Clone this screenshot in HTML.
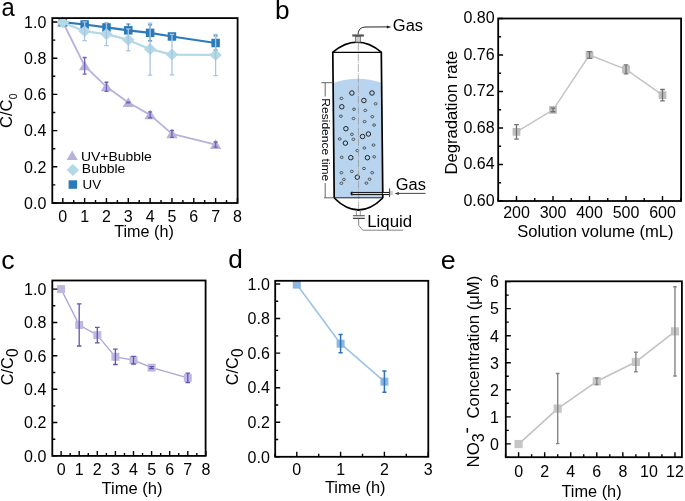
<!DOCTYPE html>
<html><head><meta charset="utf-8"><style>
html,body{margin:0;padding:0;background:#fff;}
svg{display:block;font-family:"Liberation Sans", sans-serif;will-change:transform;}
</style></head><body>
<svg width="685" height="501" viewBox="0 0 685 501">
<rect width="685" height="501" fill="#fff"/>
<text transform="translate(1.39,15.80) scale(0.9500,1)" font-size="25" text-anchor="start" >a</text>
<polyline points="62.80,22.00 84.63,65.80 106.46,86.80 128.29,102.54 150.12,114.85 171.95,133.86 215.61,144.54" fill="none" stroke="#b9b1dc" stroke-width="1.8" stroke-linejoin="round"/>
<path d="M62.80 16.61L68.50 26.41L57.10 26.41Z" fill="#b9b1dc"/>
<path d="M84.63 60.41L90.33 70.21L78.93 70.21Z" fill="#b9b1dc"/>
<path d="M106.46 81.41L112.16 91.21L100.76 91.21Z" fill="#b9b1dc"/>
<path d="M128.29 97.15L133.99 106.95L122.59 106.95Z" fill="#b9b1dc"/>
<path d="M150.12 109.46L155.82 119.26L144.42 119.26Z" fill="#b9b1dc"/>
<path d="M171.95 128.47L177.65 138.27L166.25 138.27Z" fill="#b9b1dc"/>
<path d="M215.61 139.15L221.31 148.95L209.91 148.95Z" fill="#b9b1dc"/>
<path d="M84.63 57.48V74.13M82.63 57.48H86.63M82.63 74.13H86.63" stroke="#6e63b8" stroke-width="1.3" fill="none"/>
<path d="M106.46 82.27V91.32M104.46 82.27H108.46M104.46 91.32H108.46" stroke="#6e63b8" stroke-width="1.3" fill="none"/>
<path d="M128.29 102.18V102.91M126.29 102.18H130.29M126.29 102.91H130.29" stroke="#6e63b8" stroke-width="1.3" fill="none"/>
<path d="M150.12 111.96V117.75M148.12 111.96H152.12M148.12 117.75H152.12" stroke="#6e63b8" stroke-width="1.3" fill="none"/>
<path d="M171.95 130.42V137.30M169.95 130.42H173.95M169.95 137.30H173.95" stroke="#6e63b8" stroke-width="1.3" fill="none"/>
<path d="M215.61 142.00V147.07M213.61 142.00H217.61M213.61 147.07H217.61" stroke="#6e63b8" stroke-width="1.3" fill="none"/>
<polyline points="62.80,22.18 84.63,24.53 106.46,27.43 128.29,30.33 150.12,32.86 171.95,36.48 215.61,43.00" fill="none" stroke="#2b7bbb" stroke-width="2.2" stroke-linejoin="round"/>
<rect x="58.55" y="17.93" width="8.5" height="8.5" fill="#2b7bbb"/>
<rect x="80.38" y="20.28" width="8.5" height="8.5" fill="#2b7bbb"/>
<rect x="102.21" y="23.18" width="8.5" height="8.5" fill="#2b7bbb"/>
<rect x="124.04" y="26.08" width="8.5" height="8.5" fill="#2b7bbb"/>
<rect x="145.87" y="28.61" width="8.5" height="8.5" fill="#2b7bbb"/>
<rect x="167.70" y="32.23" width="8.5" height="8.5" fill="#2b7bbb"/>
<rect x="211.36" y="38.75" width="8.5" height="8.5" fill="#2b7bbb"/>
<path d="M84.63 20.91V28.15M82.63 20.91H86.63M82.63 28.15H86.63" stroke="#2b7bbb" stroke-width="1.2" fill="none"/>
<path d="M106.46 23.81V31.05M104.46 23.81H108.46M104.46 31.05H108.46" stroke="#2b7bbb" stroke-width="1.2" fill="none"/>
<path d="M128.29 23.99V36.66M126.29 23.99H130.29M126.29 36.66H130.29" stroke="#2b7bbb" stroke-width="1.2" fill="none"/>
<path d="M150.12 24.90V40.82M148.12 24.90H152.12M148.12 40.82H152.12" stroke="#2b7bbb" stroke-width="1.2" fill="none"/>
<path d="M171.95 34.67V38.29M169.95 34.67H173.95M169.95 38.29H173.95" stroke="#2b7bbb" stroke-width="1.2" fill="none"/>
<path d="M215.61 35.94V50.06M213.61 35.94H217.61M213.61 50.06H217.61" stroke="#2b7bbb" stroke-width="1.2" fill="none"/>
<polyline points="62.80,22.54 84.63,31.23 106.46,34.13 128.29,39.92 150.12,49.15 171.95,54.58 215.61,54.94" fill="none" stroke="#b3d8e6" stroke-width="2.2" stroke-linejoin="round"/>
<path d="M62.80 16.74L69.10 22.54L62.80 28.34L56.50 22.54Z" fill="#b3d8e6"/>
<path d="M84.63 25.43L90.93 31.23L84.63 37.03L78.33 31.23Z" fill="#b3d8e6"/>
<path d="M106.46 28.33L112.76 34.13L106.46 39.93L100.16 34.13Z" fill="#b3d8e6"/>
<path d="M128.29 34.12L134.59 39.92L128.29 45.72L121.99 39.92Z" fill="#b3d8e6"/>
<path d="M150.12 43.35L156.42 49.15L150.12 54.95L143.82 49.15Z" fill="#b3d8e6"/>
<path d="M171.95 48.78L178.25 54.58L171.95 60.38L165.65 54.58Z" fill="#b3d8e6"/>
<path d="M215.61 49.14L221.91 54.94L215.61 60.74L209.31 54.94Z" fill="#b3d8e6"/>
<path d="M84.63 21.82V40.64M82.38 21.82H86.88M82.38 40.64H86.88" stroke="#aac4e6" stroke-width="1.3" fill="none"/>
<path d="M106.46 22.72V45.53M104.21 22.72H108.71M104.21 45.53H108.71" stroke="#aac4e6" stroke-width="1.3" fill="none"/>
<path d="M128.29 28.88V50.96M126.04 28.88H130.54M126.04 50.96H130.54" stroke="#aac4e6" stroke-width="1.3" fill="none"/>
<path d="M150.12 23.09V75.21M147.87 23.09H152.37M147.87 75.21H152.37" stroke="#aac4e6" stroke-width="1.3" fill="none"/>
<path d="M171.95 34.31V74.85M169.70 34.31H174.20M169.70 74.85H174.20" stroke="#aac4e6" stroke-width="1.3" fill="none"/>
<path d="M215.61 34.31V75.58M213.36 34.31H217.86M213.36 75.58H217.86" stroke="#aac4e6" stroke-width="1.3" fill="none"/>
<rect x="52.3" y="18.1" width="185.3" height="184.9" fill="none" stroke="#000" stroke-width="1.8"/>
<path d="M62.80 203V198.00M84.63 203V198.00M106.46 203V198.00M128.29 203V198.00M150.12 203V198.00M171.95 203V198.00M193.78 203V198.00M215.61 203V198.00M237.44 203V198.00" stroke="#000" stroke-width="1.4" fill="none"/>
<path d="M73.72 203V200.00M95.54 203V200.00M117.38 203V200.00M139.20 203V200.00M161.03 203V200.00M182.87 203V200.00M204.69 203V200.00M226.52 203V200.00" stroke="#000" stroke-width="1.4" fill="none"/>
<path d="M52.3 203.00H57.30M52.3 166.80H57.30M52.3 130.60H57.30M52.3 94.40H57.30M52.3 58.20H57.30M52.3 22.00H57.30" stroke="#000" stroke-width="1.4" fill="none"/>
<path d="M52.3 184.90H55.30M52.3 148.70H55.30M52.3 112.50H55.30M52.3 76.30H55.30M52.3 40.10H55.30" stroke="#000" stroke-width="1.4" fill="none"/>
<text x="62.80" y="222.20" font-size="16" text-anchor="middle" >0</text>
<text x="84.63" y="222.20" font-size="16" text-anchor="middle" >1</text>
<text x="106.46" y="222.20" font-size="16" text-anchor="middle" >2</text>
<text x="128.29" y="222.20" font-size="16" text-anchor="middle" >3</text>
<text x="150.12" y="222.20" font-size="16" text-anchor="middle" >4</text>
<text x="171.95" y="222.20" font-size="16" text-anchor="middle" >5</text>
<text x="193.78" y="222.20" font-size="16" text-anchor="middle" >6</text>
<text x="215.61" y="222.20" font-size="16" text-anchor="middle" >7</text>
<text x="237.44" y="222.20" font-size="16" text-anchor="middle" >8</text>
<text x="46.30" y="208.80" font-size="16" text-anchor="end" >0.0</text>
<text x="46.30" y="172.60" font-size="16" text-anchor="end" >0.2</text>
<text x="46.30" y="136.40" font-size="16" text-anchor="end" >0.4</text>
<text x="46.30" y="100.20" font-size="16" text-anchor="end" >0.6</text>
<text x="46.30" y="64.00" font-size="16" text-anchor="end" >0.8</text>
<text x="46.30" y="27.80" font-size="16" text-anchor="end" >1.0</text>
<text transform="translate(114.24,237.20) scale(1.0103,1)" font-size="16" text-anchor="start" >Time (h)</text>
<text transform="translate(12.30,128.04) rotate(-90) scale(1.0332,1)" font-size="16" text-anchor="start" >C/C</text>
<text transform="translate(16.60,99.30) rotate(-90) scale(0.8913,1)" font-size="11.5" text-anchor="start" >0</text>
<path d="M72.2 150.5L77.8 160L66.6 160Z" fill="#b9b1dc"/>
<path d="M72.85 164.10L79.00 170.10L72.85 176.10L66.70 170.10Z" fill="#b3d8e6"/>
<rect x="68.60" y="180.30" width="8.5" height="8.5" fill="#2b7bbb"/>
<text transform="translate(80.92,161.00) scale(1.0736,1)" font-size="13" text-anchor="start" >UV+Bubble</text>
<text transform="translate(81.85,173.40) scale(1.0738,1)" font-size="13" text-anchor="start" >Bubble</text>
<text transform="translate(82.47,188.70) scale(1.0295,1)" font-size="13" text-anchor="start" >UV</text>
<text transform="translate(274.91,18.80) scale(1.0496,1)" font-size="25" text-anchor="start" >b</text>
<polyline points="516.50,131.83 553.00,109.93 589.50,55.00 626.00,69.33 662.50,95.15" fill="none" stroke="#c4c4c4" stroke-width="1.4" stroke-linejoin="round"/>
<rect x="512.60" y="127.93" width="7.8" height="7.8" fill="#bdbdbd"/>
<path d="M516.50 124.53V139.13M514.20 124.53H518.80M514.20 139.13H518.80" stroke="#707070" stroke-width="1.3" fill="none"/>
<rect x="549.10" y="106.03" width="7.8" height="7.8" fill="#bdbdbd"/>
<path d="M553.00 108.11V111.76M550.70 108.11H555.30M550.70 111.76H555.30" stroke="#707070" stroke-width="1.3" fill="none"/>
<rect x="585.60" y="51.10" width="7.8" height="7.8" fill="#bdbdbd"/>
<path d="M589.50 51.62V58.38M587.20 51.62H591.80M587.20 58.38H591.80" stroke="#707070" stroke-width="1.3" fill="none"/>
<rect x="622.10" y="65.43" width="7.8" height="7.8" fill="#bdbdbd"/>
<path d="M626.00 64.85V73.80M623.70 64.85H628.30M623.70 73.80H628.30" stroke="#707070" stroke-width="1.3" fill="none"/>
<rect x="658.60" y="91.25" width="7.8" height="7.8" fill="#bdbdbd"/>
<path d="M662.50 89.49V100.81M660.20 89.49H664.80M660.20 100.81H664.80" stroke="#707070" stroke-width="1.3" fill="none"/>
<rect x="498.2" y="18.5" width="182.90000000000003" height="182.5" fill="none" stroke="#000" stroke-width="1.8"/>
<path d="M516.50 201V196.00M553.00 201V196.00M589.50 201V196.00M626.00 201V196.00M662.50 201V196.00" stroke="#000" stroke-width="1.4" fill="none"/>
<path d="M498.25 201V198.00M534.75 201V198.00M571.25 201V198.00M607.75 201V198.00M644.25 201V198.00M680.75 201V198.00" stroke="#000" stroke-width="1.4" fill="none"/>
<path d="M498.1 201.00H503.10M498.1 164.50H503.10M498.1 128.00H503.10M498.1 91.50H503.10M498.1 55.00H503.10M498.1 18.50H503.10" stroke="#000" stroke-width="1.4" fill="none"/>
<path d="M498.1 182.75H501.10M498.1 146.25H501.10M498.1 109.75H501.10M498.1 73.25H501.10M498.1 36.75H501.10" stroke="#000" stroke-width="1.4" fill="none"/>
<text x="516.50" y="217.70" font-size="16" text-anchor="middle" >200</text>
<text x="553.00" y="217.70" font-size="16" text-anchor="middle" >300</text>
<text x="589.50" y="217.70" font-size="16" text-anchor="middle" >400</text>
<text x="626.00" y="217.70" font-size="16" text-anchor="middle" >500</text>
<text x="662.50" y="217.70" font-size="16" text-anchor="middle" >600</text>
<text x="494.60" y="205.80" font-size="16" text-anchor="end" >0.60</text>
<text x="494.60" y="169.30" font-size="16" text-anchor="end" >0.64</text>
<text x="494.60" y="132.80" font-size="16" text-anchor="end" >0.68</text>
<text x="494.60" y="96.30" font-size="16" text-anchor="end" >0.72</text>
<text x="494.60" y="59.80" font-size="16" text-anchor="end" >0.76</text>
<text x="494.60" y="23.30" font-size="16" text-anchor="end" >0.80</text>
<text transform="translate(517.15,237.30) scale(1.0351,1)" font-size="16" text-anchor="start" >Solution volume (mL)</text>
<text transform="translate(457.40,174.46) rotate(-90) scale(1.0072,1)" font-size="16.5" text-anchor="start" >Degradation rate</text>
<text transform="translate(1.37,268.60) scale(1.0669,1)" font-size="25" text-anchor="start" >c</text>
<polyline points="61.10,289.10 79.20,324.96 97.30,335.14 115.40,356.82 133.50,360.16 151.60,367.66 187.80,377.84" fill="none" stroke="#aaa3d9" stroke-width="1.3" stroke-linejoin="round"/>
<rect x="57.10" y="285.10" width="8" height="8" fill="#bfb9e1"/>
<rect x="75.20" y="320.96" width="8" height="8" fill="#bfb9e1"/>
<path d="M79.20 303.95V345.98M76.90 303.95H81.50M76.90 345.98H81.50" stroke="#5f56b3" stroke-width="1.3" fill="none"/>
<rect x="93.30" y="331.14" width="8" height="8" fill="#bfb9e1"/>
<path d="M97.30 327.46V342.81M95.00 327.46H99.60M95.00 342.81H99.60" stroke="#5f56b3" stroke-width="1.3" fill="none"/>
<rect x="111.40" y="352.82" width="8" height="8" fill="#bfb9e1"/>
<path d="M115.40 349.15V364.49M113.10 349.15H117.70M113.10 364.49H117.70" stroke="#5f56b3" stroke-width="1.3" fill="none"/>
<rect x="129.50" y="356.16" width="8" height="8" fill="#bfb9e1"/>
<path d="M133.50 356.32V363.99M131.20 356.32H135.80M131.20 363.99H135.80" stroke="#5f56b3" stroke-width="1.3" fill="none"/>
<rect x="147.60" y="363.66" width="8" height="8" fill="#bfb9e1"/>
<path d="M151.60 366.66V368.66M149.30 366.66H153.90M149.30 368.66H153.90" stroke="#5f56b3" stroke-width="1.3" fill="none"/>
<rect x="183.80" y="373.84" width="8" height="8" fill="#bfb9e1"/>
<path d="M187.80 373.17V382.51M185.50 373.17H190.10M185.50 382.51H190.10" stroke="#5f56b3" stroke-width="1.3" fill="none"/>
<rect x="52.3" y="280.5" width="153.3" height="175.39999999999998" fill="none" stroke="#000" stroke-width="1.8"/>
<path d="M61.10 455.9V450.90M79.20 455.9V450.90M97.30 455.9V450.90M115.40 455.9V450.90M133.50 455.9V450.90M151.60 455.9V450.90M169.70 455.9V450.90M187.80 455.9V450.90M205.90 455.9V450.90" stroke="#000" stroke-width="1.4" fill="none"/>
<path d="M70.15 455.9V452.90M88.25 455.9V452.90M106.35 455.9V452.90M124.45 455.9V452.90M142.55 455.9V452.90M160.65 455.9V452.90M178.75 455.9V452.90M196.85 455.9V452.90" stroke="#000" stroke-width="1.4" fill="none"/>
<path d="M52.3 455.90H57.30M52.3 422.54H57.30M52.3 389.18H57.30M52.3 355.82H57.30M52.3 322.46H57.30M52.3 289.10H57.30" stroke="#000" stroke-width="1.4" fill="none"/>
<path d="M52.3 439.22H55.30M52.3 405.86H55.30M52.3 372.50H55.30M52.3 339.14H55.30M52.3 305.78H55.30" stroke="#000" stroke-width="1.4" fill="none"/>
<text x="61.10" y="474.80" font-size="16" text-anchor="middle" >0</text>
<text x="79.20" y="474.80" font-size="16" text-anchor="middle" >1</text>
<text x="97.30" y="474.80" font-size="16" text-anchor="middle" >2</text>
<text x="115.40" y="474.80" font-size="16" text-anchor="middle" >3</text>
<text x="133.50" y="474.80" font-size="16" text-anchor="middle" >4</text>
<text x="151.60" y="474.80" font-size="16" text-anchor="middle" >5</text>
<text x="169.70" y="474.80" font-size="16" text-anchor="middle" >6</text>
<text x="187.80" y="474.80" font-size="16" text-anchor="middle" >7</text>
<text x="205.90" y="474.80" font-size="16" text-anchor="middle" >8</text>
<text x="46.30" y="461.70" font-size="16" text-anchor="end" >0.0</text>
<text x="46.30" y="428.34" font-size="16" text-anchor="end" >0.2</text>
<text x="46.30" y="394.98" font-size="16" text-anchor="end" >0.4</text>
<text x="46.30" y="361.62" font-size="16" text-anchor="end" >0.6</text>
<text x="46.30" y="328.26" font-size="16" text-anchor="end" >0.8</text>
<text x="46.30" y="294.90" font-size="16" text-anchor="end" >1.0</text>
<text transform="translate(101.43,493.50) scale(1.0377,1)" font-size="16" text-anchor="start" >Time (h)</text>
<text transform="translate(12.50,385.32) rotate(-90) scale(1.0141,1)" font-size="16" text-anchor="start" >C/C</text>
<text transform="translate(17.70,357.10) rotate(-90) scale(0.9544,1)" font-size="16" text-anchor="start" >0</text>
<text transform="translate(228.20,268.20) scale(1.0496,1)" font-size="25" text-anchor="start" >d</text>
<polyline points="296.80,284.60 340.60,343.70 384.40,381.63" fill="none" stroke="#9cc3e7" stroke-width="1.6" stroke-linejoin="round"/>
<rect x="292.80" y="280.60" width="8" height="8" fill="#8cb7e1"/>
<rect x="336.60" y="339.70" width="8" height="8" fill="#8cb7e1"/>
<path d="M340.60 334.54V352.86M338.50 334.54H342.70M338.50 352.86H342.70" stroke="#2f72ba" stroke-width="1.5" fill="none"/>
<rect x="380.40" y="377.63" width="8" height="8" fill="#8cb7e1"/>
<path d="M384.40 370.92V392.35M382.30 370.92H386.50M382.30 392.35H386.50" stroke="#2f72ba" stroke-width="1.5" fill="none"/>
<rect x="275.2" y="280.8" width="153.10000000000002" height="176.0" fill="none" stroke="#000" stroke-width="1.8"/>
<path d="M296.80 456.8V451.80M340.60 456.8V451.80M384.40 456.8V451.80M428.20 456.8V451.80" stroke="#000" stroke-width="1.4" fill="none"/>
<path d="M274.90 456.8V453.80M318.70 456.8V453.80M362.50 456.8V453.80M406.30 456.8V453.80" stroke="#000" stroke-width="1.4" fill="none"/>
<path d="M275.2 456.80H280.20M275.2 422.24H280.20M275.2 387.68H280.20M275.2 353.12H280.20M275.2 318.56H280.20M275.2 284.00H280.20" stroke="#000" stroke-width="1.4" fill="none"/>
<path d="M275.2 439.52H278.20M275.2 404.96H278.20M275.2 370.40H278.20M275.2 335.84H278.20M275.2 301.28H278.20" stroke="#000" stroke-width="1.4" fill="none"/>
<text x="296.80" y="474.50" font-size="16" text-anchor="middle" >0</text>
<text x="340.60" y="474.50" font-size="16" text-anchor="middle" >1</text>
<text x="384.40" y="474.50" font-size="16" text-anchor="middle" >2</text>
<text x="428.20" y="474.50" font-size="16" text-anchor="middle" >3</text>
<text x="269.80" y="462.60" font-size="16" text-anchor="end" >0.0</text>
<text x="269.80" y="428.04" font-size="16" text-anchor="end" >0.2</text>
<text x="269.80" y="393.48" font-size="16" text-anchor="end" >0.4</text>
<text x="269.80" y="358.92" font-size="16" text-anchor="end" >0.6</text>
<text x="269.80" y="324.36" font-size="16" text-anchor="end" >0.8</text>
<text x="269.80" y="289.80" font-size="16" text-anchor="end" >1.0</text>
<text transform="translate(324.93,493.40) scale(1.0274,1)" font-size="16" text-anchor="start" >Time (h)</text>
<text transform="translate(237.70,385.22) rotate(-90) scale(1.0141,1)" font-size="16" text-anchor="start" >C/C</text>
<text transform="translate(242.90,357.00) rotate(-90) scale(0.9544,1)" font-size="16" text-anchor="start" >0</text>
<text transform="translate(440.76,268.60) scale(1.0741,1)" font-size="25" text-anchor="start" >e</text>
<polyline points="518.60,444.04 557.69,408.60 596.78,381.31 635.87,361.94 674.96,331.37" fill="none" stroke="#c2c2c2" stroke-width="1.6" stroke-linejoin="round"/>
<rect x="514.50" y="439.94" width="8.2" height="8.2" fill="#c6c6c6"/>
<rect x="553.59" y="404.50" width="8.2" height="8.2" fill="#c6c6c6"/>
<path d="M557.69 373.54V443.66M555.89 373.54H559.49M555.89 443.66H559.49" stroke="#868686" stroke-width="1.4" fill="none"/>
<rect x="592.68" y="377.21" width="8.2" height="8.2" fill="#c6c6c6"/>
<path d="M596.78 378.06V384.55M594.98 378.06H598.58M594.98 384.55H598.58" stroke="#868686" stroke-width="1.4" fill="none"/>
<rect x="631.77" y="357.84" width="8.2" height="8.2" fill="#c6c6c6"/>
<path d="M635.87 352.20V371.68M634.07 352.20H637.67M634.07 371.68H637.67" stroke="#868686" stroke-width="1.4" fill="none"/>
<rect x="670.86" y="327.27" width="8.2" height="8.2" fill="#c6c6c6"/>
<path d="M674.96 286.74V376.00M673.16 286.74H676.76M673.16 376.00H676.76" stroke="#868686" stroke-width="1.4" fill="none"/>
<rect x="505.8" y="281.3" width="176.09999999999997" height="175.89999999999998" fill="none" stroke="#000" stroke-width="1.8"/>
<path d="M518.60 457.2V452.20M544.66 457.2V452.20M570.72 457.2V452.20M596.78 457.2V452.20M622.84 457.2V452.20M648.90 457.2V452.20M674.96 457.2V452.20" stroke="#000" stroke-width="1.4" fill="none"/>
<path d="M505.57 457.2V454.20M531.63 457.2V454.20M557.69 457.2V454.20M583.75 457.2V454.20M609.81 457.2V454.20M635.87 457.2V454.20M661.93 457.2V454.20" stroke="#000" stroke-width="1.4" fill="none"/>
<path d="M505.8 443.90H510.80M505.8 416.85H510.80M505.8 389.80H510.80M505.8 362.75H510.80M505.8 335.70H510.80M505.8 308.65H510.80M505.8 281.60H510.80" stroke="#000" stroke-width="1.4" fill="none"/>
<path d="M505.8 457.42H508.80M505.8 430.38H508.80M505.8 403.32H508.80M505.8 376.27H508.80M505.8 349.22H508.80M505.8 322.17H508.80M505.8 295.12H508.80" stroke="#000" stroke-width="1.4" fill="none"/>
<text x="518.60" y="477.00" font-size="16" text-anchor="middle" >0</text>
<text x="544.66" y="477.00" font-size="16" text-anchor="middle" >2</text>
<text x="570.72" y="477.00" font-size="16" text-anchor="middle" >4</text>
<text x="596.78" y="477.00" font-size="16" text-anchor="middle" >6</text>
<text x="622.84" y="477.00" font-size="16" text-anchor="middle" >8</text>
<text x="648.90" y="477.00" font-size="16" text-anchor="middle" >10</text>
<text x="674.96" y="477.00" font-size="16" text-anchor="middle" >12</text>
<text x="499.00" y="449.70" font-size="16" text-anchor="end" >0</text>
<text x="499.00" y="422.65" font-size="16" text-anchor="end" >1</text>
<text x="499.00" y="395.60" font-size="16" text-anchor="end" >2</text>
<text x="499.00" y="368.55" font-size="16" text-anchor="end" >3</text>
<text x="499.00" y="341.50" font-size="16" text-anchor="end" >4</text>
<text x="499.00" y="314.45" font-size="16" text-anchor="end" >5</text>
<text x="499.00" y="287.40" font-size="16" text-anchor="end" >6</text>
<text transform="translate(561.43,497.40) scale(1.0223,1)" font-size="16" text-anchor="start" >Time (h)</text>
<text transform="translate(479.20,467.48) rotate(-90) scale(1.0157,1)" font-size="16.6" text-anchor="start" >NO</text>
<text transform="translate(484.00,442.21) rotate(-90) scale(0.9656,1)" font-size="16.6" text-anchor="start" >3</text>
<rect x="466.6" y="428" width="1.5" height="4.7" fill="#000"/>
<text transform="translate(479.20,418.55) rotate(-90) scale(1.0033,1)" font-size="16.6" text-anchor="start" >Concentration (μM)</text>
<path d="M333.6 82.7 Q357.5 74.8 381.4 82.7 L382.3 197.8 L334.2 197.8 Z" fill="#b8d4ee"/>
<circle cx="351.9" cy="93" r="2.25" fill="none" stroke="#222" stroke-width="1.0"/>
<circle cx="372" cy="93" r="2.25" fill="none" stroke="#222" stroke-width="1.0"/>
<circle cx="363.9" cy="100.5" r="2.25" fill="none" stroke="#222" stroke-width="1.0"/>
<circle cx="341.8" cy="106.8" r="2.25" fill="none" stroke="#222" stroke-width="1.0"/>
<circle cx="345.9" cy="128.7" r="2.25" fill="none" stroke="#222" stroke-width="1.0"/>
<circle cx="368.4" cy="134" r="2.25" fill="none" stroke="#222" stroke-width="1.0"/>
<circle cx="362.5" cy="136.5" r="2.25" fill="none" stroke="#222" stroke-width="1.0"/>
<circle cx="345.4" cy="143.1" r="2.25" fill="none" stroke="#222" stroke-width="1.0"/>
<circle cx="350.8" cy="157.7" r="2.25" fill="none" stroke="#222" stroke-width="1.0"/>
<circle cx="367.4" cy="157.7" r="2.25" fill="none" stroke="#222" stroke-width="1.0"/>
<circle cx="357.3" cy="177.2" r="2.25" fill="none" stroke="#222" stroke-width="1.0"/>
<ellipse cx="341.4" cy="98.4" rx="1.45" ry="1.2" fill="none" stroke="#333" stroke-width="0.75"/>
<ellipse cx="375.6" cy="103.8" rx="1.45" ry="1.2" fill="none" stroke="#333" stroke-width="0.75"/>
<ellipse cx="354" cy="109.2" rx="1.45" ry="1.2" fill="none" stroke="#333" stroke-width="0.75"/>
<ellipse cx="365.3" cy="110.4" rx="1.45" ry="1.2" fill="none" stroke="#333" stroke-width="0.75"/>
<ellipse cx="340.9" cy="116.2" rx="1.45" ry="1.2" fill="none" stroke="#333" stroke-width="0.75"/>
<ellipse cx="353.5" cy="118.5" rx="1.45" ry="1.2" fill="none" stroke="#333" stroke-width="0.75"/>
<ellipse cx="372.3" cy="116.7" rx="1.45" ry="1.2" fill="none" stroke="#333" stroke-width="0.75"/>
<ellipse cx="364.6" cy="121.6" rx="1.45" ry="1.2" fill="none" stroke="#333" stroke-width="0.75"/>
<ellipse cx="374.1" cy="125.1" rx="1.45" ry="1.2" fill="none" stroke="#333" stroke-width="0.75"/>
<ellipse cx="351.9" cy="134.3" rx="1.45" ry="1.2" fill="none" stroke="#333" stroke-width="0.75"/>
<ellipse cx="339.7" cy="138.9" rx="1.45" ry="1.2" fill="none" stroke="#333" stroke-width="0.75"/>
<ellipse cx="353.4" cy="139.3" rx="1.45" ry="1.2" fill="none" stroke="#333" stroke-width="0.75"/>
<ellipse cx="373.5" cy="145.1" rx="1.45" ry="1.2" fill="none" stroke="#333" stroke-width="0.75"/>
<ellipse cx="364.4" cy="148" rx="1.45" ry="1.2" fill="none" stroke="#333" stroke-width="0.75"/>
<ellipse cx="357.3" cy="150.6" rx="1.45" ry="1.2" fill="none" stroke="#333" stroke-width="0.75"/>
<ellipse cx="341.7" cy="157.3" rx="1.45" ry="1.2" fill="none" stroke="#333" stroke-width="0.75"/>
<ellipse cx="374.2" cy="156.8" rx="1.45" ry="1.2" fill="none" stroke="#333" stroke-width="0.75"/>
<ellipse cx="364" cy="168.5" rx="1.45" ry="1.2" fill="none" stroke="#333" stroke-width="0.75"/>
<ellipse cx="351.8" cy="171.4" rx="1.45" ry="1.2" fill="none" stroke="#333" stroke-width="0.75"/>
<ellipse cx="341.4" cy="172.7" rx="1.45" ry="1.2" fill="none" stroke="#333" stroke-width="0.75"/>
<ellipse cx="372.2" cy="172.7" rx="1.45" ry="1.2" fill="none" stroke="#333" stroke-width="0.75"/>
<ellipse cx="343.9" cy="179.5" rx="1.45" ry="1.2" fill="none" stroke="#333" stroke-width="0.75"/>
<ellipse cx="369.6" cy="179.2" rx="1.45" ry="1.2" fill="none" stroke="#333" stroke-width="0.75"/>
<ellipse cx="341.4" cy="183.3" rx="1.45" ry="1.2" fill="none" stroke="#333" stroke-width="0.75"/>
<ellipse cx="366.4" cy="183.1" rx="1.45" ry="1.2" fill="none" stroke="#333" stroke-width="0.75"/>
<path d="M358.3 43 L358.6 209" stroke="#999" stroke-width="0.8" stroke-dasharray="7.6 1.1 0.8 1.1" fill="none"/>
<path d="M332.8 52.1 L334.2 198 M381.3 52.1 L382.8 198" stroke="#000" stroke-width="1.7" fill="none"/>
<path d="M332.8 52.4 H381.3" stroke="#000" stroke-width="1.1" fill="none"/>
<path d="M332.6 52.3 Q357.2 31.9 381.5 52.3" stroke="#000" stroke-width="1.7" fill="none"/>
<path d="M334.2 197.8 H382.6" stroke="#222" stroke-width="1.0" fill="none"/>
<path d="M334.2 198 Q358.5 222 382.8 198" stroke="#000" stroke-width="1.7" fill="none"/>
<rect x="355.6" y="36.5" width="4.8" height="5.6" fill="#ccc" stroke="#666" stroke-width="0.8"/>
<rect x="352.3" y="34.4" width="11.6" height="2.2" fill="#555"/>
<path d="M358.1 34.4 C358.4 29.5 360.5 27.2 366 27 L387.5 26.9" stroke="#222" stroke-width="1" fill="none"/>
<path d="M391.3 26.9 L386.8 25.4 L386.8 28.4 Z" fill="#222"/>
<text transform="translate(392.87,31.30) scale(1.0300,1)" font-size="16" text-anchor="start" >Gas</text>
<path d="M356.4 210 V215.6 M360.3 210 V215.6" stroke="#888" stroke-width="0.9" fill="none"/>
<path d="M352.9 215.8 H364.8 M352.9 218.4 H364.8" stroke="#444" stroke-width="1.1" fill="none"/>
<path d="M358.7 218.8 V225.4 L362.8 230.2 H403.1" stroke="#777" stroke-width="0.9" fill="none"/>
<text transform="translate(367.22,227.00) scale(1.0211,1)" font-size="16.5" text-anchor="start" >Liquid</text>
<rect x="382.8" y="192.6" width="6.8" height="1.8" fill="#fff"/>
<path d="M389.4 192.45 H352.6 A1.05 1.05 0 0 0 352.6 194.55 H389.4" stroke="#111" stroke-width="1.0" fill="none"/>
<path d="M352.4 192.5 A1.0 1.0 0 0 0 352.4 194.5" stroke="#000" stroke-width="1.8" fill="none"/>
<rect x="390.2" y="190.8" width="2.6" height="4.4" fill="#ccc"/>
<path d="M389.6 188.4 V197.1" stroke="#222" stroke-width="0.9"/>
<path d="M398 193.4 H425.5" stroke="#333" stroke-width="0.9" fill="none"/>
<path d="M394.6 193.4 L398.8 191.9 L398.8 194.9 Z" fill="#333"/>
<text transform="translate(395.77,189.80) scale(1.0264,1)" font-size="16" text-anchor="start" >Gas</text>
<path d="M321.3 82.7 H333 M325.2 82.7 V96.5 M325.2 183 V197.8 M324.2 197.8 H334.2" stroke="#555" stroke-width="0.9" fill="none"/>
<text transform="translate(322.00,98.31) rotate(90) scale(1.0567,1)" font-size="11.4" text-anchor="start" >Residence time</text>
</svg>
</body></html>
